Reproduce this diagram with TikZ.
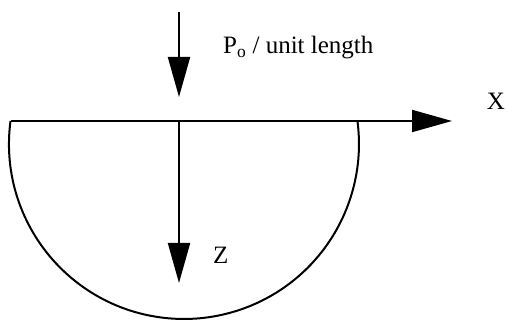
\documentclass[tikz,border=0pt]{standalone}
\usepackage{fontspec}
\setmainfont{Liberation Serif}
\usetikzlibrary{arrows.meta}
\begin{document}
\begin{tikzpicture}[x=1pt,y=-1pt,
  axis/.style={line width=2pt,-{Triangle[length=40pt,width=22pt]}},
  bowl/.style={line width=2pt},
  lbl/.style={inner sep=0pt,anchor=base west,font=\fontsize{25}{28}\selectfont},
  axlbl/.style={inner sep=0pt,font=\fontsize{25}{28}\selectfont}]
\useasboundingbox (0,0) rectangle (506,320);
% coordinates
\coordinate (L) at (10.5,121);
\coordinate (R) at (357.5,121);
\coordinate (O) at (179,121);
\coordinate (Xend) at (452,121);
\coordinate (Ztip) at (179,283);
\coordinate (Ptop) at (179,12);
\coordinate (Ptip) at (179,97);
% bowl
\draw[bowl] (L) arc[start angle=187.55,end angle=-7.55,radius=175];
% axes
\draw[axis] (L) -- (Xend);
\draw[axis] (O) -- (Ztip);
\draw[axis] (Ptop) -- (Ptip);
% labels
\node[lbl] (P) at (223,54) {P\textsubscript{o} / unit length};
\node[axlbl,anchor=base east] (X) at (505,110) {X};
\node[axlbl,anchor=base west] (Z) at (213,264) {Z};
\end{tikzpicture}
\end{document}
